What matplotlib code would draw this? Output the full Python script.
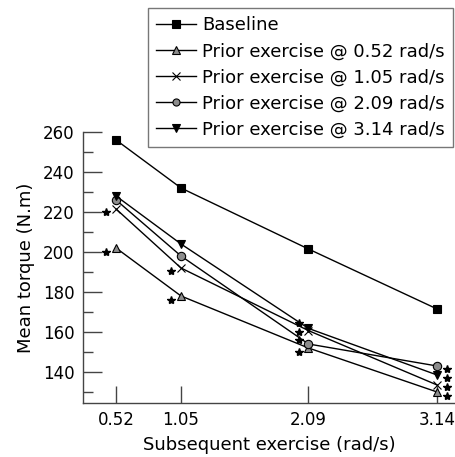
import numpy as np
import matplotlib
matplotlib.use('Agg')
import matplotlib.pyplot as plt
from matplotlib.ticker import MultipleLocator

plt.rcParams['font.family'] = ['DejaVu Sans']

#speeds of the subsequent exercise
speeds = [0.52, 1.05, 2.09, 3.14]
tick_labels = ['0.52', '1.05', '2.09', '3.14']

#mean torque for each condition
baseline = [256, 232, 201.5, 171.5]
prior_052 = [202, 178, 152, 130]
prior_105 = [221.5, 192, 160.7, 133.5]
prior_209 = [226, 198, 154, 143]
prior_314 = [228, 204, 161.8, 138.5]

#significance stars (speed, torque)
star_x = [0.52, 0.52, 1.05, 1.05, 2.09, 2.09, 2.09, 2.09, 3.14, 3.14, 3.14, 3.14]
star_y = [220, 200, 190.5, 176, 164.3, 160.2, 156, 149.8, 141.3, 137.2, 132.7, 128]

fig = plt.figure(figsize=(4.56, 4.57), dpi=100)
ax = fig.add_axes([83/456, 1-403/457, 372/456, (403-132)/457])

series = [
    (baseline, 's', 'k', 'Baseline'),
    (prior_052, '^', '#8c8c8c', 'Prior exercise @ 0.52 rad/s'),
    (prior_105, 'x', 'k', 'Prior exercise @ 1.05 rad/s'),
    (prior_209, 'o', '#8c8c8c', 'Prior exercise @ 2.09 rad/s'),
    (prior_314, 'v', 'k', 'Prior exercise @ 3.14 rad/s'),
]
for vals, mk, fc, lab in series:
    ax.plot(speeds, vals, '-', color='k', lw=1.0, marker=mk, markersize=6,
            markerfacecolor=fc, markeredgecolor='k', markeredgewidth=0.8, label=lab)

#stars sit just beside the points (left, except at the last speed)
off = np.where(np.array(star_x) > 3, 0.08, -0.08)
ax.plot(np.array(star_x) + off, star_y, '*', color='k', markersize=6, linestyle='none')

ax.set_xlim(0.25, 3.286)
ax.set_ylim(124.5, 260)
ax.set_xticks(speeds)
ax.set_xticklabels(tick_labels)
ax.yaxis.set_minor_locator(MultipleLocator(10))
ax.set_yticks(np.arange(140, 261, 20))

for s in ['top', 'right']:
    ax.spines[s].set_visible(False)
for s in ['left', 'bottom']:
    ax.spines[s].set_color('#444444')
    ax.spines[s].set_linewidth(1.0)

ax.tick_params(axis='y', which='major', direction='in', length=14, width=1, color='#444444', labelsize=12, pad=6)
ax.tick_params(axis='y', which='minor', direction='in', length=7, width=1, color='#444444')
ax.tick_params(axis='x', which='major', direction='in', length=12, width=1, color='#444444', labelsize=12, pad=6)

ax.set_xlabel('Subsequent exercise (rad/s)', fontsize=13, labelpad=5)
ax.set_ylabel('Mean torque (N.m)', fontsize=13, labelpad=6)

leg = fig.legend(loc='upper right', bbox_to_anchor=(453/456, 1-8/457), fontsize=13,
                 frameon=True, fancybox=False, handlelength=2.2, handletextpad=0.35,
                 labelspacing=0.45, borderpad=0.45, borderaxespad=0, markerscale=0.85)
leg.get_frame().set_edgecolor('#555555')
leg.get_frame().set_linewidth(1.0)

plt.savefig('out.png', dpi=100)
